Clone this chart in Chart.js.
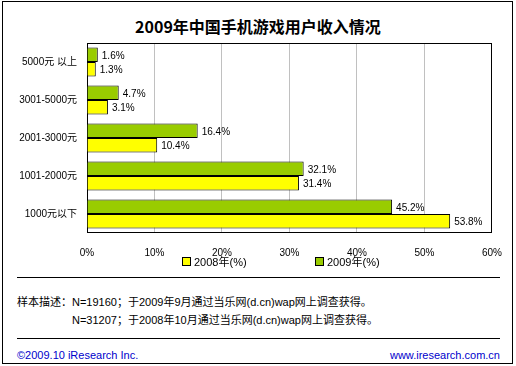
<!DOCTYPE html>
<html lang="zh">
<head>
<meta charset="UTF-8">
<title>2009年中国手机游戏用户收入情况</title>
<script src="https://cdn.jsdelivr.net/npm/chart.js"></script>
<style>
    body {
        margin: 0;
        background: white;
        font-family: "Liberation Sans", "Noto Sans CJK SC", sans-serif;
    }
    #wrap {
        position: relative;
        width: 516px;
        height: 366px;
        overflow: hidden;
    }
    #frame {
        position: absolute;
        left: 2px;
        top: 1px;
        width: 509px;
        height: 361px;
        border: 1px solid black;
    }
    #title {
        position: absolute;
        left: 0;
        width: 516px;
        top: 16px;
        text-align: center;
        font-size: 16px;
        font-weight: bold;
        font-family: "Noto Sans CJK SC", sans-serif;
        line-height: 20px;
    }
    canvas {
        position: absolute;
        left: 0;
        top: 0;
    }
    .rule {
        position: absolute;
        left: 17px;
        width: 483px;
        height: 0;
        border-top: 1px solid black;
    }
    .txt {
        position: absolute;
        font-size: 11px;
        line-height: 14px;
        white-space: nowrap;
    }
    .legend-item {
        position: absolute;
        top: 255px;
        font-size: 11px;
        line-height: 14px;
        white-space: nowrap;
    }
    .legend-item span.box {
        display: inline-block;
        width: 7px;
        height: 7px;
        border: 1px solid black;
        margin-right: 3px;
        vertical-align: 0px;
    }
    .blue { color: #0000cc; }
</style>
</head>
<body>
<div id="wrap">
    <div id="frame"></div>
    <div id="title">2009年中国手机游戏用户收入情况</div>
    <canvas id="incomeChart" width="516" height="270"></canvas>
    <div id="legend"></div>
    <div class="rule" style="top:277px"></div>
    <div class="txt" style="left:17px; top:295px">样本描述：N=19160；于2009年9月通过当乐网(d.cn)wap网上调查获得。</div>
    <div class="txt" style="left:72px; top:313px">N=31207；于2008年10月通过当乐网(d.cn)wap网上调查获得。</div>
    <div class="rule" style="top:338px"></div>
    <div class="txt blue" style="left:17px; top:348px">©2009.10 iResearch Inc.</div>
    <div class="txt blue" style="right:16px; top:348px">www.iresearch.com.cn</div>
</div>
<script>
    const categories = ['5000元 以上', '3001-5000元', '2001-3000元', '1001-2000元', '1000元以下'];
    const values2009 = [1.6, 4.7, 16.4, 32.1, 45.2];
    const values2008 = [1.3, 3.1, 10.4, 31.4, 53.8];
    const xTicks = [0, 10, 20, 30, 40, 50, 60];

    const GREEN = '#99cc00';
    const YELLOW = '#ffff00';

    // value labels to the right of each bar
    const valueLabels = {
        id: 'valueLabels',
        afterDatasetsDraw(chart) {
            const c = chart.ctx;
            c.save();
            c.font = '10px "Liberation Sans", "Noto Sans CJK SC"';
            c.fillStyle = 'black';
            c.textBaseline = 'middle';
            c.textAlign = 'left';
            chart.data.datasets.forEach((ds, i) => {
                chart.getDatasetMeta(i).data.forEach((bar, j) => {
                    c.fillText(ds.data[j].toFixed(1) + '%', bar.x + 4, bar.y + 1);
                });
            });
            c.restore();
        }
    };

    // black box round the plot area
    const plotBorder = {
        id: 'plotBorder',
        beforeDatasetsDraw(chart) {
            const a = chart.chartArea;
            const c = chart.ctx;
            c.save();
            c.strokeStyle = 'black';
            c.lineWidth = 1;
            c.strokeRect(a.left + 0.5, a.top + 0.5, a.right - a.left - 1, a.bottom - a.top - 1);
            c.restore();
        }
    };

    const ctx = document.getElementById('incomeChart').getContext('2d');
    const chart = new Chart(ctx, {
        type: 'bar',
        data: {
            labels: categories,
            datasets: [{
                label: '2009年(%)',
                data: values2009,
                backgroundColor: GREEN,
                borderColor: 'black',
                borderWidth: 1,
                categoryPercentage: 0.76,
                barPercentage: 1.0
            }, {
                label: '2008年(%)',
                data: values2008,
                backgroundColor: YELLOW,
                borderColor: 'black',
                borderWidth: 1,
                categoryPercentage: 0.76,
                barPercentage: 1.0
            }]
        },
        options: {
            indexAxis: 'y',
            responsive: false,
            animation: false,
            devicePixelRatio: 1,
            layout: { padding: { top: 43, right: 23, left: 0, bottom: 0 } },
            plugins: {
                legend: { display: false },
                tooltip: { enabled: false }
            },
            scales: {
                x: {
                    min: 0,
                    max: 60,
                    afterBuildTicks: s => { s.ticks = xTicks.map(v => ({ value: v })); },
                    afterFit: s => { s.height = 37; },
                    grid: { color: '#c0c0c0', drawTicks: false },
                    border: { display: false },
                    ticks: {
                        padding: 14,
                        color: 'black',
                        font: { size: 10, family: '"Liberation Sans", "Noto Sans CJK SC"' },
                        callback: v => v + '%'
                    }
                },
                y: {
                    afterFit: s => { s.width = 87; },
                    grid: { display: false, drawTicks: false },
                    border: { display: false },
                    ticks: {
                        padding: 10,
                        color: 'black',
                        font: { size: 10, family: '"Liberation Sans", "Noto Sans CJK SC"' }
                    }
                }
            }
        },
        plugins: [plotBorder, valueLabels]
    });

    // legend, 2008 first like the original
    const legendPos = [182, 315];
    const legendEl = document.getElementById('legend');
    chart.data.datasets.slice().reverse().forEach((ds, i) => {
        const item = document.createElement('div');
        item.className = 'legend-item';
        item.style.left = legendPos[i] + 'px';
        item.innerHTML = '<span class="box" style="background:' + ds.backgroundColor + '"></span>' + ds.label;
        legendEl.appendChild(item);
    });
</script>
</body>
</html>
